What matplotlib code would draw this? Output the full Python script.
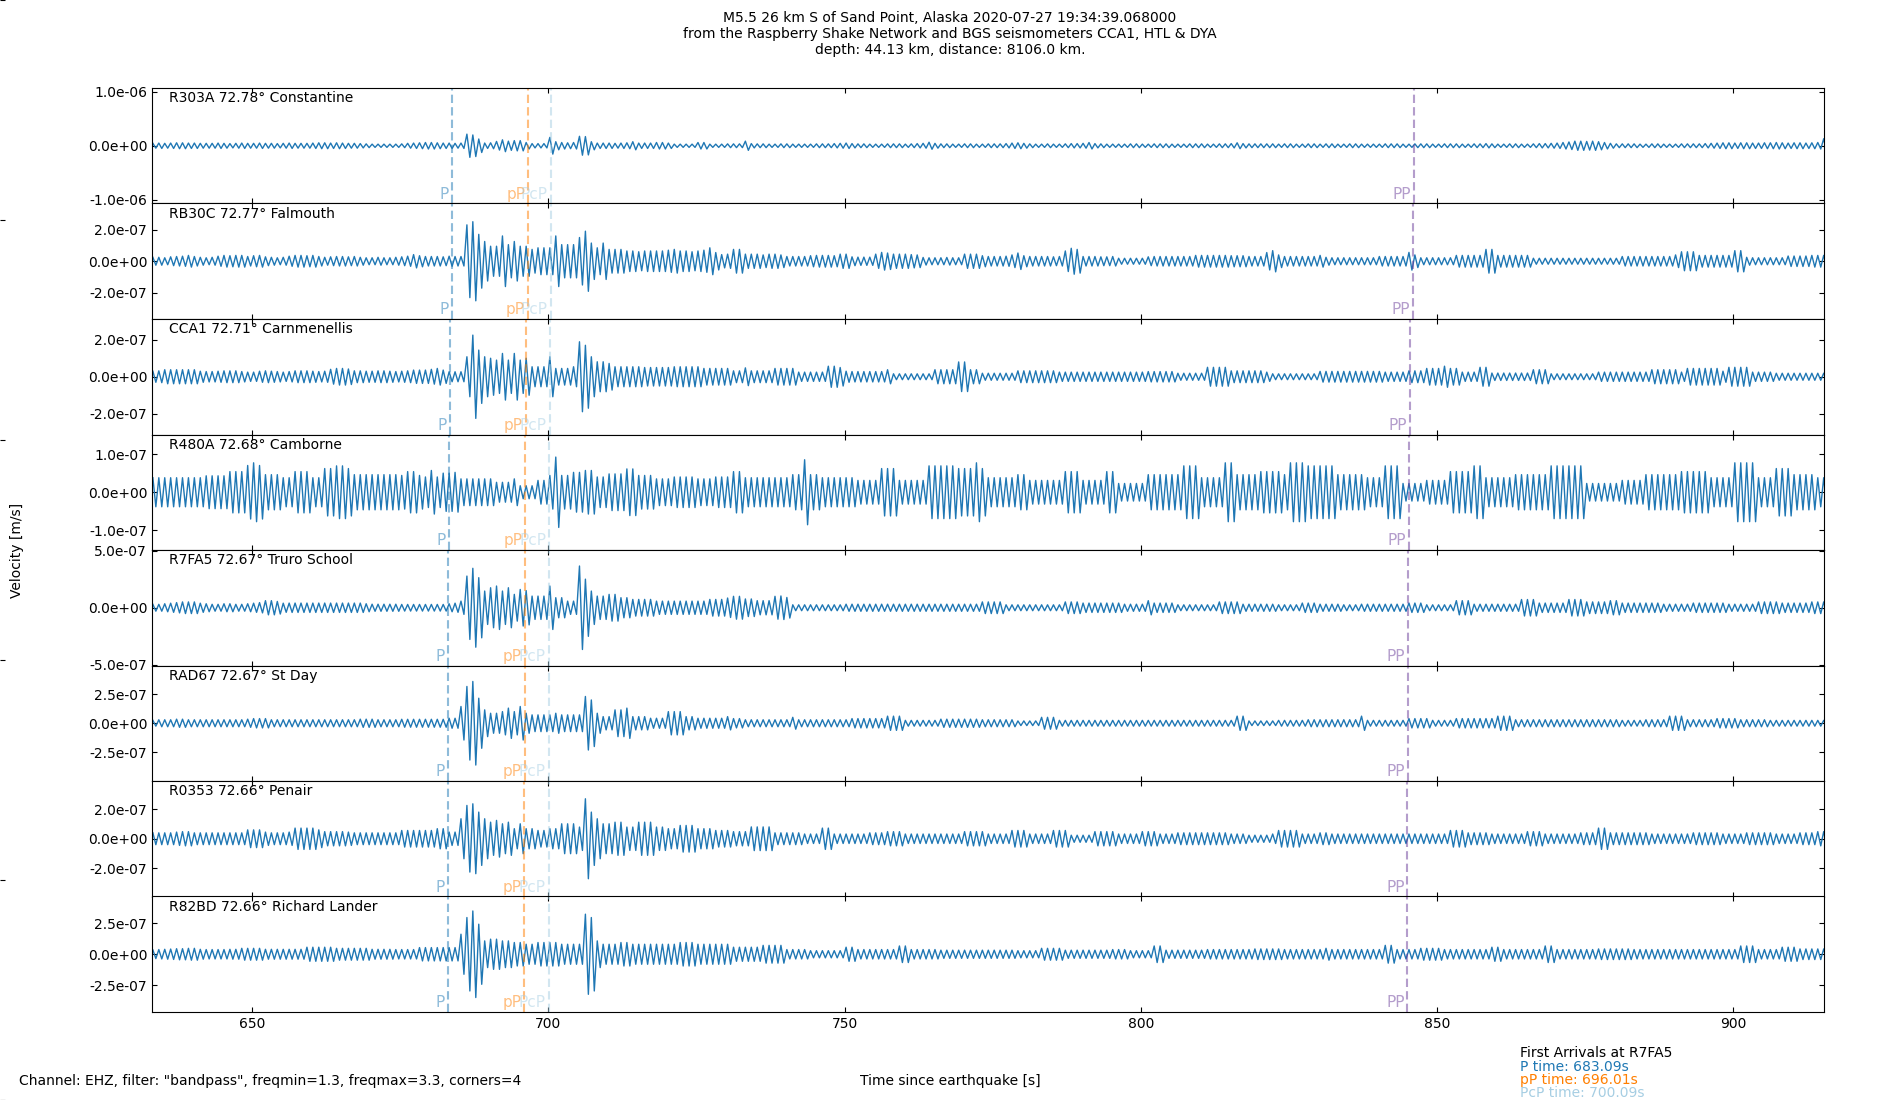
import numpy as np
import matplotlib
matplotlib.use("Agg")
import matplotlib.pyplot as plt
from matplotlib.ticker import FormatStrFormatter
from matplotlib.transforms import blended_transform_factory

# stations, top to bottom
stations = ["R303A", "RB30C", "CCA1", "R480A", "R7FA5", "RAD67", "R0353", "R82BD"]
distances = [72.78, 72.77, 72.71, 72.68, 72.67, 72.67, 72.66, 72.66]
places = ["Constantine", "Falmouth", "Carnmenellis", "Camborne", "Truro School",
          "St Day", "Penair", "Richard Lander"]

# y limits (m/s) and y tick step per panel
ylims = [1.07e-6, 3.65e-7, 3.12e-7, 1.51e-7, 5.05e-7, 4.96e-7, 3.9e-7, 4.67e-7]
ysteps = [1.0e-6, 2.0e-7, 2.0e-7, 1.0e-7, 5.0e-7, 2.5e-7, 2.0e-7, 2.5e-7]

# arrival times per station (s after origin)
p_times = [683.72, 683.66, 683.32, 683.15, 683.09, 683.09, 683.03, 683.03]
pp_small = [696.63, 696.57, 696.23, 696.07, 696.01, 696.01, 695.95, 695.95]
pcp_times = [700.42, 700.39, 700.21, 700.12, 700.09, 700.09, 700.06, 700.06]
pp_times = [846.05, 845.95, 845.45, 845.2, 845.1, 845.1, 845.0, 845.0]

# peak velocity per second (nm/s), seconds 633..915
t_start = 633
env_R303A = [
    45, 50, 45, 50, 55, 55, 50, 50, 45, 45,
    45, 50, 45, 40, 45, 50, 45, 45, 50, 45,
    45, 40, 45, 50, 45, 45, 45, 50, 55, 55,
    50, 55, 50, 45, 45, 40, 35, 30, 30, 30,
    30, 30, 35, 45, 50, 55, 60, 60, 55, 50,
    50, 45, 50, 215, 200, 125, 50, 55, 80, 110,
    85, 95, 95, 60, 40, 40, 40, 155, 75, 60,
    55, 60, 175, 170, 75, 50, 50, 50, 45, 50,
    55, 75, 50, 50, 50, 60, 60, 50, 30, 30,
    30, 30, 60, 60, 30, 30, 30, 35, 35, 35,
    85, 40, 35, 35, 30, 30, 35, 35, 30, 30,
    30, 30, 35, 35, 35, 40, 45, 50, 40, 35,
    35, 30, 30, 30, 35, 35, 35, 30, 35, 40,
    45, 65, 45, 35, 35, 30, 30, 35, 35, 30,
    30, 35, 35, 35, 40, 50, 55, 45, 35, 30,
    30, 35, 30, 30, 35, 40, 40, 45, 60, 40,
    35, 30, 30, 30, 30, 35, 35, 30, 30, 35,
    35, 35, 30, 30, 30, 35, 35, 35, 30, 30,
    35, 35, 40, 55, 40, 35, 35, 35, 35, 35,
    30, 35, 35, 30, 30, 35, 35, 30, 35, 35,
    30, 30, 35, 35, 30, 30, 30, 30, 35, 35,
    35, 30, 30, 35, 35, 35, 30, 30, 35, 35,
    35, 30, 30, 35, 35, 40, 35, 30, 30, 35,
    35, 30, 30, 35, 40, 40, 45, 50, 60, 70,
    85, 85, 80, 85, 75, 60, 45, 35, 35, 35,
    35, 30, 30, 35, 35, 30, 30, 30, 35, 35,
    35, 35, 40, 45, 50, 55, 55, 50, 55, 55,
    50, 50, 55, 55, 60, 55, 50, 55, 55, 50,
    55, 60, 130]
env_RB30C = [
    25, 25, 22, 28, 30, 32, 37, 30, 25, 22,
    25, 32, 37, 35, 37, 37, 30, 35, 37, 28,
    25, 22, 25, 32, 37, 37, 35, 37, 30, 25,
    28, 30, 30, 28, 30, 25, 22, 22, 25, 22,
    22, 25, 28, 32, 42, 35, 30, 30, 30, 28,
    32, 30, 30, 230, 250, 170, 125, 95, 95, 160,
    105, 125, 95, 95, 75, 85, 85, 85, 160, 105,
    105, 105, 150, 190, 115, 85, 115, 75, 75, 75,
    65, 65, 60, 65, 65, 65, 65, 70, 75, 65,
    65, 60, 65, 70, 85, 55, 42, 45, 75, 75,
    45, 45, 45, 40, 45, 45, 40, 30, 30, 30,
    30, 35, 37, 37, 37, 35, 45, 45, 28, 26,
    26, 26, 45, 56, 52, 45, 45, 45, 42, 40,
    24, 22, 22, 22, 24, 22, 22, 45, 45, 45,
    35, 30, 30, 30, 32, 40, 52, 35, 30, 30,
    30, 30, 28, 30, 65, 82, 75, 30, 30, 30,
    28, 28, 30, 19, 19, 19, 19, 19, 28, 30,
    30, 30, 30, 30, 30, 30, 37, 37, 37, 37,
    37, 37, 35, 35, 35, 30, 30, 30, 55, 67,
    40, 30, 30, 30, 30, 30, 30, 37, 25, 22,
    22, 22, 22, 22, 22, 22, 22, 30, 30, 30,
    30, 30, 56, 40, 22, 22, 22, 22, 22, 22,
    37, 37, 37, 37, 37, 75, 75, 37, 37, 37,
    37, 37, 37, 19, 19, 19, 19, 19, 19, 19,
    19, 19, 19, 19, 19, 19, 19, 19, 30, 30,
    30, 30, 30, 30, 30, 30, 30, 40, 60, 60,
    60, 37, 37, 37, 37, 37, 37, 67, 67, 25,
    22, 22, 22, 22, 22, 22, 33, 33, 33, 33,
    37, 37, 37]
env_CCA1 = [
    30, 32, 38, 38, 38, 38, 38, 38, 30, 28,
    28, 30, 32, 32, 32, 28, 25, 25, 30, 32,
    30, 28, 25, 28, 32, 32, 32, 30, 28, 30,
    40, 45, 45, 42, 32, 32, 30, 30, 32, 32,
    30, 28, 30, 32, 36, 36, 36, 40, 45, 36,
    27, 27, 27, 108, 225, 144, 108, 100, 90, 126,
    90, 126, 90, 100, 54, 54, 54, 108, 45, 45,
    45, 54, 189, 170, 108, 81, 81, 72, 54, 54,
    54, 54, 54, 50, 50, 50, 50, 50, 54, 54,
    54, 54, 54, 45, 45, 45, 45, 45, 32, 32,
    48, 32, 32, 32, 32, 45, 45, 45, 45, 25,
    25, 25, 25, 25, 57, 57, 50, 30, 28, 28,
    28, 28, 28, 28, 38, 16, 16, 16, 16, 16,
    16, 16, 38, 38, 38, 38, 80, 80, 38, 38,
    19, 19, 19, 19, 19, 19, 32, 32, 32, 32,
    32, 32, 32, 25, 25, 25, 25, 25, 25, 25,
    25, 25, 25, 25, 25, 25, 25, 25, 28, 28,
    28, 28, 28, 19, 19, 19, 19, 19, 51, 51,
    51, 51, 32, 32, 32, 32, 32, 32, 25, 16,
    16, 16, 16, 16, 16, 16, 16, 29, 29, 29,
    29, 29, 29, 29, 29, 29, 29, 29, 25, 25,
    25, 25, 32, 32, 32, 45, 45, 45, 57, 45,
    45, 25, 25, 25, 51, 51, 20, 20, 20, 20,
    20, 20, 20, 38, 38, 38, 16, 16, 16, 16,
    16, 16, 16, 16, 25, 25, 25, 25, 25, 25,
    25, 25, 25, 38, 38, 38, 38, 38, 25, 45,
    45, 45, 45, 45, 45, 30, 51, 51, 51, 51,
    25, 25, 25, 25, 19, 19, 19, 19, 19, 19,
    19, 19, 19]
env_R480A = [
    38, 38, 38, 38, 38, 38, 38, 38, 38, 43,
    43, 43, 43, 54, 54, 54, 70, 77, 70, 46,
    46, 46, 38, 38, 54, 54, 54, 38, 38, 62,
    62, 69, 69, 62, 46, 46, 46, 46, 46, 46,
    46, 46, 44, 54, 54, 44, 40, 57, 40, 50,
    50, 52, 35, 35, 35, 35, 35, 35, 26, 26,
    26, 35, 17, 17, 17, 31, 31, 44, 92, 44,
    44, 52, 52, 57, 57, 40, 40, 48, 48, 48,
    61, 61, 44, 44, 44, 35, 35, 35, 40, 40,
    40, 40, 35, 35, 35, 40, 40, 40, 54, 54,
    38, 38, 38, 38, 38, 38, 38, 38, 46, 46,
    85, 46, 46, 38, 38, 38, 38, 38, 38, 31,
    31, 31, 31, 62, 62, 62, 31, 31, 31, 31,
    31, 69, 69, 69, 69, 69, 62, 62, 62, 77,
    62, 38, 38, 38, 38, 38, 46, 46, 31, 31,
    31, 31, 31, 31, 54, 54, 54, 31, 31, 31,
    31, 54, 54, 23, 23, 23, 23, 23, 46, 46,
    46, 46, 46, 46, 69, 69, 69, 38, 38, 38,
    38, 77, 77, 46, 46, 46, 46, 54, 54, 54,
    54, 46, 77, 77, 77, 69, 69, 69, 69, 69,
    46, 46, 46, 46, 46, 38, 38, 38, 69, 69,
    69, 23, 23, 23, 23, 31, 31, 31, 31, 54,
    54, 54, 54, 69, 69, 38, 38, 38, 38, 38,
    46, 46, 46, 46, 46, 46, 69, 69, 69, 69,
    69, 69, 23, 23, 23, 23, 23, 23, 31, 31,
    31, 31, 46, 46, 46, 46, 46, 46, 54, 54,
    54, 54, 54, 38, 38, 38, 38, 77, 77, 77,
    77, 38, 38, 38, 62, 62, 62, 46, 46, 46,
    46, 38, 38]
env_R7FA5 = [
    30, 30, 35, 40, 45, 51, 51, 51, 40, 35,
    30, 30, 35, 35, 30, 30, 35, 40, 45, 62,
    62, 55, 40, 41, 41, 41, 41, 41, 41, 41,
    41, 41, 41, 41, 41, 41, 35, 31, 31, 31,
    31, 31, 29, 29, 29, 29, 29, 29, 29, 29,
    35, 40, 58, 277, 345, 263, 146, 175, 190, 146,
    175, 117, 160, 150, 102, 102, 102, 190, 88, 88,
    58, 58, 365, 250, 146, 102, 102, 117, 117, 88,
    88, 73, 73, 73, 73, 58, 58, 58, 58, 58,
    58, 58, 58, 58, 73, 73, 73, 85, 100, 100,
    77, 77, 62, 62, 62, 100, 103, 90, 26, 26,
    26, 26, 26, 26, 26, 26, 26, 31, 31, 31,
    31, 31, 31, 31, 31, 31, 31, 31, 31, 31,
    31, 31, 31, 31, 31, 31, 31, 31, 31, 31,
    51, 51, 51, 51, 26, 26, 26, 26, 26, 26,
    26, 26, 26, 26, 51, 51, 51, 41, 41, 41,
    41, 41, 41, 41, 31, 31, 31, 31, 62, 41,
    41, 41, 41, 26, 26, 26, 26, 26, 26, 26,
    51, 51, 51, 51, 31, 31, 31, 31, 31, 31,
    26, 26, 26, 26, 41, 41, 41, 31, 31, 31,
    31, 26, 26, 26, 31, 31, 31, 31, 31, 31,
    31, 31, 41, 41, 41, 26, 26, 26, 26, 26,
    62, 62, 62, 31, 31, 31, 31, 31, 31, 31,
    31, 72, 72, 72, 41, 41, 41, 41, 41, 72,
    72, 72, 51, 51, 51, 51, 62, 62, 41, 41,
    41, 41, 41, 41, 41, 31, 31, 31, 31, 31,
    41, 41, 41, 41, 41, 41, 31, 31, 31, 31,
    31, 51, 51, 51, 51, 41, 41, 41, 41, 41,
    51, 51, 51]
env_RAD67 = [
    25, 30, 30, 30, 35, 35, 30, 30, 30, 30,
    30, 30, 30, 30, 30, 30, 35, 40, 40, 40,
    30, 30, 30, 30, 30, 30, 30, 30, 30, 30,
    30, 30, 30, 30, 30, 35, 35, 35, 30, 30,
    30, 30, 34, 34, 34, 34, 34, 34, 34, 34,
    43, 43, 144, 316, 359, 215, 115, 86, 86, 100,
    130, 100, 144, 86, 72, 72, 72, 72, 86, 72,
    72, 72, 72, 230, 200, 86, 57, 57, 115, 115,
    130, 57, 57, 57, 43, 43, 43, 100, 100, 100,
    57, 57, 43, 43, 43, 43, 43, 57, 40, 40,
    30, 30, 30, 30, 30, 30, 30, 30, 51, 30,
    30, 30, 30, 30, 30, 30, 30, 30, 40, 40,
    40, 40, 40, 40, 61, 61, 61, 25, 25, 25,
    25, 25, 25, 35, 35, 35, 35, 35, 35, 35,
    30, 30, 30, 30, 30, 30, 20, 20, 20, 20,
    51, 51, 51, 25, 25, 25, 25, 25, 25, 25,
    25, 25, 25, 25, 25, 25, 25, 25, 25, 25,
    25, 25, 25, 25, 25, 25, 25, 25, 25, 25,
    25, 25, 25, 61, 61, 20, 20, 20, 20, 20,
    25, 25, 25, 25, 25, 30, 30, 30, 30, 30,
    30, 30, 30, 30, 61, 25, 25, 25, 25, 25,
    25, 25, 40, 40, 40, 40, 25, 25, 25, 25,
    40, 40, 40, 40, 40, 40, 40, 61, 61, 61,
    30, 30, 30, 30, 30, 30, 30, 30, 30, 30,
    30, 30, 30, 30, 30, 30, 30, 30, 25, 25,
    25, 25, 30, 30, 30, 30, 61, 61, 61, 30,
    30, 30, 30, 30, 40, 40, 40, 40, 30, 30,
    30, 30, 30, 25, 25, 25, 25, 25, 25, 25,
    25, 25, 25]
env_R0353 = [
    40, 40, 40, 40, 45, 48, 48, 40, 40, 40,
    40, 40, 40, 40, 40, 40, 60, 60, 60, 45,
    40, 40, 40, 45, 72, 72, 72, 72, 60, 48,
    48, 48, 48, 45, 40, 40, 40, 40, 40, 40,
    40, 40, 56, 56, 56, 56, 56, 56, 68, 68,
    45, 45, 135, 225, 236, 180, 135, 112, 124, 101,
    112, 68, 101, 68, 68, 56, 56, 68, 68, 101,
    101, 101, 79, 270, 180, 135, 101, 101, 112, 112,
    79, 79, 112, 112, 112, 79, 79, 68, 68, 90,
    90, 90, 68, 68, 68, 56, 56, 56, 48, 48,
    48, 80, 80, 80, 80, 40, 40, 40, 40, 40,
    32, 32, 32, 72, 72, 32, 32, 32, 32, 32,
    32, 40, 40, 40, 48, 48, 48, 32, 32, 32,
    32, 32, 32, 32, 32, 32, 32, 48, 48, 48,
    48, 32, 32, 32, 32, 56, 56, 56, 32, 32,
    32, 32, 56, 56, 56, 24, 24, 24, 24, 48,
    48, 48, 48, 32, 32, 32, 32, 48, 48, 48,
    32, 32, 32, 40, 40, 40, 40, 40, 40, 40,
    40, 40, 32, 32, 32, 24, 24, 24, 24, 32,
    56, 56, 56, 56, 32, 32, 32, 40, 40, 32,
    32, 32, 32, 32, 32, 32, 32, 32, 32, 32,
    32, 32, 32, 32, 32, 32, 32, 32, 32, 56,
    56, 56, 40, 40, 40, 40, 32, 32, 32, 32,
    32, 32, 48, 48, 48, 32, 32, 32, 32, 32,
    32, 40, 40, 40, 72, 72, 40, 40, 40, 40,
    40, 40, 40, 32, 32, 32, 32, 32, 32, 32,
    40, 40, 40, 40, 40, 32, 32, 32, 32, 40,
    40, 40, 40, 40, 32, 32, 32, 32, 40, 40,
    40, 48, 48]
env_R82BD = [
    35, 38, 40, 42, 45, 45, 48, 48, 40, 38,
    38, 38, 38, 40, 40, 48, 48, 48, 48, 40,
    40, 40, 40, 40, 40, 40, 57, 57, 57, 57,
    57, 48, 48, 48, 48, 48, 48, 40, 40, 40,
    40, 38, 38, 38, 38, 54, 54, 54, 54, 54,
    54, 54, 162, 297, 350, 243, 108, 122, 122, 108,
    108, 95, 95, 81, 81, 95, 95, 95, 95, 81,
    81, 81, 81, 324, 297, 108, 81, 81, 81, 95,
    95, 81, 81, 81, 81, 81, 81, 81, 81, 95,
    95, 95, 81, 81, 81, 81, 81, 81, 57, 57,
    57, 57, 57, 72, 72, 72, 72, 38, 38, 38,
    38, 29, 29, 29, 29, 29, 29, 57, 57, 38,
    38, 38, 38, 38, 38, 38, 67, 67, 38, 38,
    38, 38, 38, 33, 33, 33, 33, 33, 33, 33,
    33, 33, 33, 33, 33, 33, 29, 29, 29, 29,
    48, 48, 48, 48, 33, 33, 33, 33, 33, 33,
    33, 33, 38, 38, 38, 29, 29, 29, 29, 67,
    67, 33, 33, 33, 33, 33, 33, 33, 38, 38,
    38, 38, 38, 38, 38, 38, 43, 43, 43, 43,
    43, 38, 38, 38, 38, 38, 38, 38, 48, 38,
    38, 38, 38, 38, 38, 38, 38, 38, 72, 72,
    38, 38, 38, 38, 48, 48, 48, 48, 38, 38,
    38, 38, 38, 38, 38, 38, 57, 57, 38, 38,
    38, 38, 38, 38, 38, 67, 67, 38, 38, 38,
    38, 38, 38, 38, 43, 43, 43, 43, 43, 43,
    38, 38, 38, 38, 38, 38, 38, 38, 38, 38,
    38, 38, 38, 38, 38, 38, 38, 38, 67, 67,
    67, 38, 38, 38, 38, 57, 57, 57, 43, 43,
    43, 43, 43]
envelopes = [env_R303A, env_RB30C, env_CCA1, env_R480A,
             env_R7FA5, env_RAD67, env_R0353, env_R82BD]

title = ("M5.5 26 km S of Sand Point, Alaska 2020-07-27 19:34:39.068000\n"
         "from the Raspberry Shake Network and BGS seismometers CCA1, HTL & DYA\n"
         "depth: 44.13 km, distance: 8106.0 km.")
filter_note = 'Channel: EHZ, filter: "bandpass", freqmin=1.3, freqmax=3.3, corners=4'

c_P = "#1f78b4"
c_pP = "#ff7f00"
c_PcP = "#a6cee3"
c_PP = "#6a3d9a"

plt.rcParams["font.size"] = 10
fig, axes = plt.subplots(len(stations), 1, figsize=(19, 11), dpi=100, sharex=True)
fig.subplots_adjust(left=0.08, right=0.96, top=0.92, bottom=0.08, hspace=0)

# each second drawn as one up and one down swing of the read peak amplitude
phase = np.array([0.25, 0.75])
signs = np.array([1, -1])

for i, ax in enumerate(axes):
    env = np.asarray(envelopes[i], dtype=float) * 1e-9
    secs = t_start + np.arange(len(env))
    t = (secs[:, None] + phase).ravel()
    v = (env[:, None] * signs).ravel()
    ax.plot(t, v, color="#1f77b4", lw=1.0)

    lim = ylims[i]
    ax.set_ylim(-lim, lim)
    ax.set_xlim(633.1, 915.3)
    ax.set_yticks([-ysteps[i], 0, ysteps[i]])
    ax.yaxis.set_major_formatter(FormatStrFormatter("%.1e"))
    ax.set_xticks([650, 700, 750, 800, 850, 900])
    ax.tick_params(direction="in", top=True, right=True, labelsize=10)

    ax.text(0.01, 0.97, f"{stations[i]} {distances[i]:.2f}° {places[i]}",
            transform=ax.transAxes, ha="left", va="top", fontsize=10)

    trans = blended_transform_factory(ax.transData, ax.transAxes)
    for tt, col, name in [(p_times[i], c_P, "P"),
                          (pp_small[i], c_pP, "pP"),
                          (pcp_times[i], c_PcP, "PcP"),
                          (pp_times[i], c_PP, "PP")]:
        ax.axvline(tt, color=col, alpha=0.5, lw=1.5, linestyle=(0, (4, 2)))
        ax.text(tt - 0.5, 0.015, name, transform=trans, ha="right", va="bottom",
                color=col, alpha=0.5, fontsize=11)

for ax in axes[:-1]:
    ax.tick_params(labelbottom=False)

# invisible full-figure frame, its ticks just peek in at the left edge
frame = fig.add_axes([0, 0, 1, 1], frameon=False)
frame.set_xticks([])
frame.set_yticks([0, 0.2, 0.4, 0.6, 0.8, 1.0])
frame.tick_params(axis="y", direction="in", labelleft=False)
frame.set_zorder(-1)

fig.suptitle(title, y=0.99, fontsize=10, va="top")
fig.text(0.009, 0.5, "Velocity [m/s]", rotation=90, ha="center", va="center")
fig.text(0.01, 0.017, filter_note, ha="left", va="center")
fig.text(0.5, 0.017, "Time since earthquake [s]", ha="center", va="center")

fig.text(0.8, 0.0425, "First Arrivals at R7FA5", ha="left", va="center", color="black")
fig.text(0.8, 0.030, f"P time: {p_times[4]:.2f}s", ha="left", va="center", color=c_P)
fig.text(0.8, 0.018, f"pP time: {pp_small[4]:.2f}s", ha="left", va="center", color=c_pP)
fig.text(0.8, 0.006, f"PcP time: {pcp_times[4]:.2f}s", ha="left", va="center", color=c_PcP)

fig.savefig("out.png", dpi=100)
